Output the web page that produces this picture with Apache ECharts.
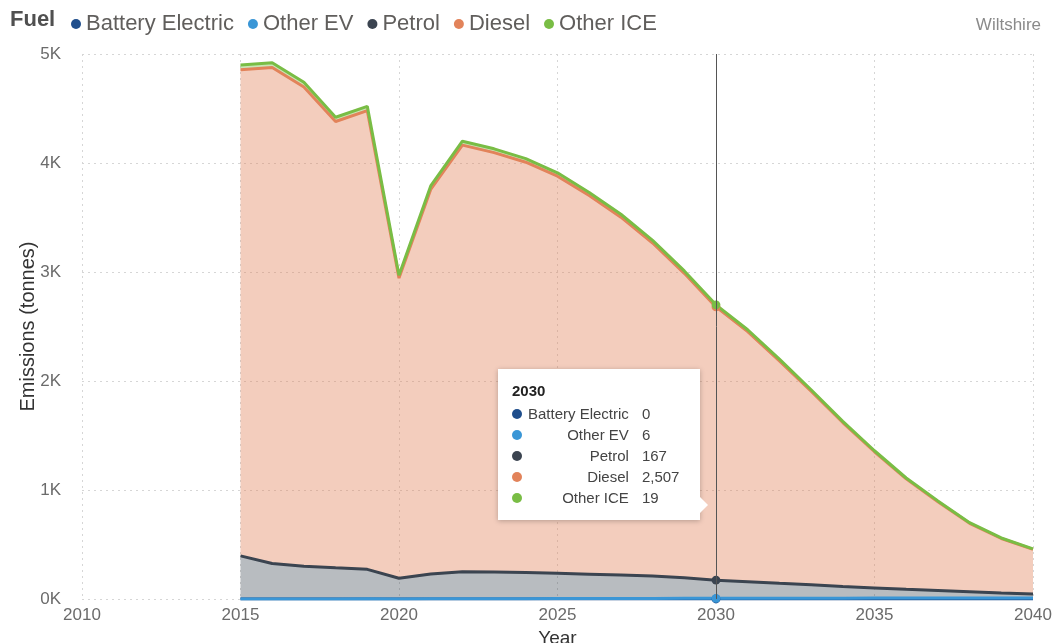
<!DOCTYPE html>
<html><head><meta charset="utf-8">
<script src="https://cdn.jsdelivr.net/npm/echarts@6/dist/echarts.min.js"></script>
<style>html,body{margin:0;padding:0;background:#fff}#c{width:1055px;height:643px}</style>
</head><body><div id="c"></div>
<script>
const axisYears = [2010,2011,2012,2013,2014,2015,2016,2017,2018,2019,2020,2021,2022,2023,2024,2025,2026,2027,2028,2029,2030,2031,2032,2033,2034,2035,2036,2037,2038,2039,2040];
const years = [2015,2016,2017,2018,2019,2020,2021,2022,2023,2024,2025,2026,2027,2028,2029,2030,2031,2032,2033,2034,2035,2036,2037,2038,2039,2040];
const batteryElectric = [0,0,0,0,0,0,0,0,0,0,0,0,0,0,0,0,0,0,0,0,0,0,0,0,0,0];
const otherEV = [1,1,1,1,2,1,2,2,3,3,4,4,5,5,6,6,7,7,8,8,9,9,10,10,10,10];
const petrol = [395,325,300,285,270,190,228,248,245,240,232,224,215,205,188,167,152,137,122,107,93,80,68,57,46,36];
const diesel = [4459,4550,4397,4095,4208,2753,3527,3914,3847,3764,3643,3473,3283,3056,2794,2507,2294,2041,1777,1504,1249,1013,815,627,499,410];
const otherICE = [45,44,42,39,40,26,33,36,35,33,31,29,27,24,22,19,17,15,13,11,9,8,7,6,5,4];
const yTicks = [0,1000,2000,3000,4000,5000];

const seriesDefs = [
  {name:'Battery Electric', data:batteryElectric, color:'#1f4e8c', area:0.35},
  {name:'Other EV', data:otherEV, color:'#3a96d6', area:0.35},
  {name:'Petrol', data:petrol, color:'#3b4450', area:0.36},
  {name:'Diesel', data:diesel, color:'#e2835a', area:0.40},
  {name:'Other ICE', data:otherICE, color:'#79bd45', area:0.40}
];
const FONT = "'Liberation Sans', Arial, sans-serif";
const chart = echarts.init(document.getElementById('c'), null, {renderer:'canvas'});
const option = {
  animation:false,
  textStyle:{fontFamily:FONT},
  grid:{left:82, right:22, top:54, bottom:44, containLabel:false, outerBoundsMode:'none'},
  legend:{
    left:66, top:8, icon:'circle', itemWidth:10, itemHeight:10, itemGap:14,
    textStyle:{fontSize:22, color:'#605e5c', fontFamily:FONT},
    data:seriesDefs.map(s=>s.name)
  },
  graphic:[
    {type:'text', left:10, top:9, style:{text:'Fuel', fontSize:22, fontWeight:'bold', fill:'#505050', fontFamily:FONT}},
    {type:'text', right:14, top:17, style:{text:'Wiltshire', fontSize:17, fill:'#8a8a8a', fontFamily:FONT}}
  ],
  tooltip:{
    trigger:'axis', alwaysShowContent:true, transitionDuration:0,
    position:[498,369],
    backgroundColor:'#fff', borderWidth:0, padding:[12,14,12,14],
    extraCssText:'box-shadow:0 1px 5px rgba(0,0,0,0.25);border-radius:0;width:202px;box-sizing:border-box;',
    axisPointer:{type:'line', snap:true, lineStyle:{color:'#555', width:1, type:'solid'}, label:{show:false}},
    formatter:function(params){
      let h = '<div style="font-family:Liberation Sans,Arial;font-weight:bold;font-size:15px;color:#222;line-height:20px;margin-bottom:2px">'+params[0].axisValue+'</div>';
      h += '<table style="border-collapse:collapse;font-family:Liberation Sans,Arial;font-size:15px;color:#444">';
      params.forEach(function(p){
        h += '<tr style="height:19.7px"><td style="padding:0 6px 0 0;vertical-align:middle"><span style="display:inline-block;width:10px;height:10px;border-radius:50%;background:'+p.color+'"></span></td>'
          + '<td style="text-align:right;padding:0 12px 0 0;line-height:19px">'+p.seriesName+'</td>'
          + '<td style="text-align:left;line-height:19px">'+Number(p.value).toLocaleString('en-US')+'</td></tr>';
      });
      h += '</table><div style="position:absolute;right:-8px;top:128px;width:0;height:0;border-top:8px solid transparent;border-bottom:8px solid transparent;border-left:8px solid #fff"></div>';
      return h;
    }
  },
  xAxis:{
    type:'category', data:axisYears.map(String), boundaryGap:false,
    name:'Year', nameLocation:'middle', nameGap:26,
    nameTextStyle:{fontSize:19, color:'#333', fontFamily:FONT},
    axisLine:{show:false}, axisTick:{show:false},
    axisLabel:{fontSize:17, color:'#6b6b6b', margin:8, interval:4},
    splitLine:{show:true, interval:4, lineStyle:{color:'#d6d6d6', type:[2,4], width:1}}
  },
  yAxis:{
    type:'value', min:yTicks[0], max:yTicks[yTicks.length-1], interval:1000,
    name:'Emissions (tonnes)', nameLocation:'middle', nameGap:44, nameRotate:90, nameMoveOverlap:false,
    nameTextStyle:{fontSize:20, color:'#333', fontFamily:FONT},
    axisLine:{show:false}, axisTick:{show:false},
    axisLabel:{fontSize:17, color:'#6b6b6b', margin:21, formatter:function(v){return (v/1000)+'K';}},
    splitLine:{show:true, lineStyle:{color:'#d6d6d6', type:[2,4], width:1}}
  },
  series:seriesDefs.map(function(s){
    return {
      name:s.name, type:'line', stack:'total', showSymbol:false, symbol:'circle', symbolSize:8,
      data:axisYears.map(function(y){var i = years.indexOf(y); return i < 0 ? null : s.data[i];}),
      itemStyle:{color:s.color},
      lineStyle:{color:s.color, width:3},
      areaStyle:{color:s.color, opacity:s.area},
      emphasis:{disabled:true},
      z:2
    };
  })
};
chart.setOption(option);
chart.dispatchAction({type:'showTip', seriesIndex:0, dataIndex:20});
</script>
</body></html>
